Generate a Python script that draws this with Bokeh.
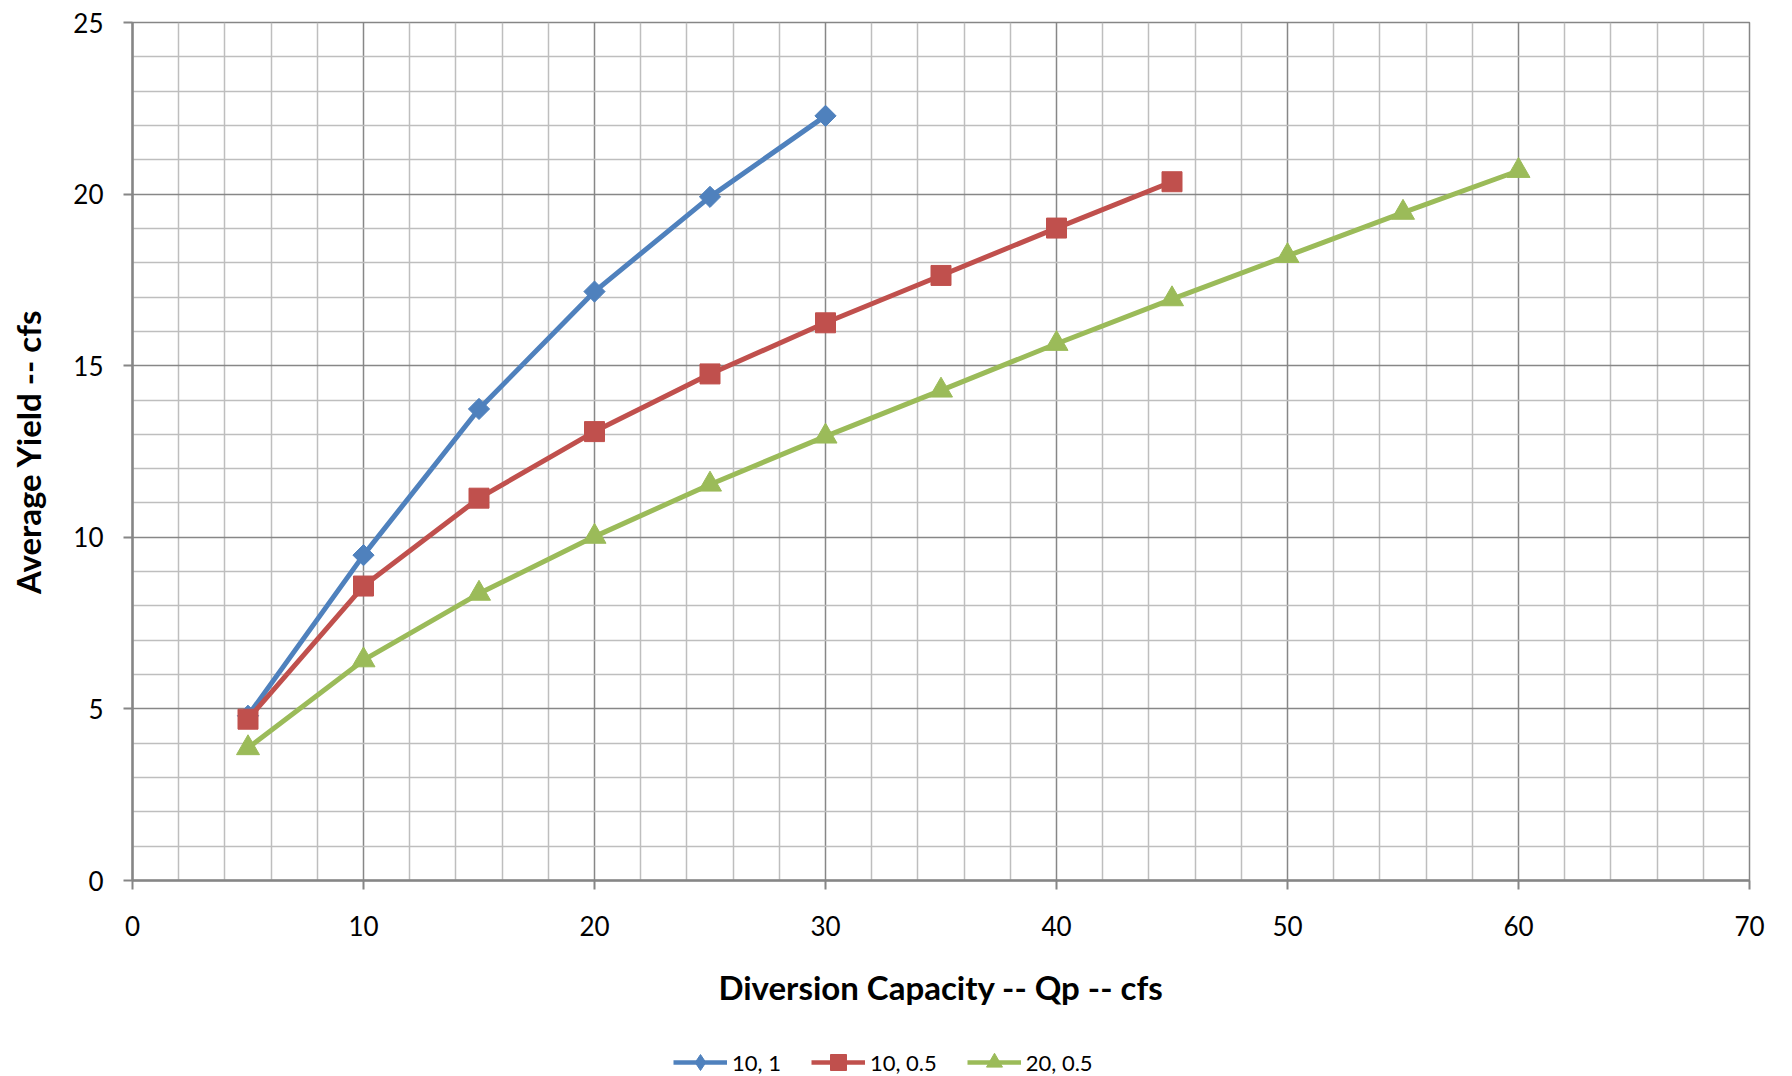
from bokeh.plotting import figure
from bokeh.layouts import column
from bokeh.models import Range1d, FixedTicker, Legend, LegendItem
from bokeh.embed import file_html
from bokeh.resources import INLINE

# ---- data ----
x_10_1 = [5, 10, 15, 20, 25, 30]
y_10_1 = [4.80, 9.48, 13.74, 17.16, 19.92, 22.28]

x_10_05 = [5, 10, 15, 20, 25, 30, 35, 40, 45]
y_10_05 = [4.70, 8.58, 11.14, 13.08, 14.76, 16.25, 17.63, 19.01, 20.36]

x_20_05 = [5, 10, 15, 20, 25, 30, 35, 40, 45, 50, 55, 60]
y_20_05 = [3.86, 6.42, 8.36, 10.02, 11.54, 12.94, 14.28, 15.64, 16.94, 18.20, 19.46, 20.68]

series_labels = ["10, 1", "10, 0.5", "20, 0.5"]
x_title = "Diversion Capacity -- Qp -- cfs"
y_title = "Average Yield -- cfs"

x_major = list(range(0, 71, 10))
x_minor = [v for v in range(0, 71, 2) if v % 10 != 0]
y_major = list(range(0, 26, 5))
y_minor = [v for v in range(0, 26, 1) if v % 5 != 0]

FONT = "Lato"
MAJOR_GRID = "#878787"
MINOR_GRID = "#bebebe"
AXIS_COLOR = "#868686"
colors = ["#4f81bd", "#c0504d", "#9bbb59"]
series = [(x_10_1, y_10_1, "square", 15, 45),
          (x_10_05, y_10_05, "square", 20, 0),
          (x_20_05, y_20_05, "triangle", 23, 0)]
legend_markers = ["diamond", "square", "triangle"]

H_MAIN = 1030
H_LEG = 1076 - H_MAIN

p = figure(width=1792, height=H_MAIN, output_backend="svg", toolbar_location=None,
           x_range=Range1d(0, 70), y_range=Range1d(0, 25),
           min_border_left=132, min_border_right=43, min_border_top=22,
           min_border_bottom=H_MAIN - 880)

p.background_fill_color = "white"
p.border_fill_color = "white"
p.outline_line_color = AXIS_COLOR
p.outline_line_width = 1.5

p.xaxis.ticker = FixedTicker(ticks=x_major, minor_ticks=x_minor)
p.yaxis.ticker = FixedTicker(ticks=y_major, minor_ticks=y_minor)

for g in (p.xgrid, p.ygrid):
    g.grid_line_color = MAJOR_GRID
    g.grid_line_width = 1.5
    g.minor_grid_line_color = MINOR_GRID
    g.minor_grid_line_width = 1.5

for ax in (p.xaxis, p.yaxis):
    ax.axis_line_color = AXIS_COLOR
    ax.axis_line_width = 2.5
    ax.major_tick_line_color = AXIS_COLOR
    ax.major_tick_line_width = 2
    ax.major_tick_out = 9
    ax.major_tick_in = 0
    ax.minor_tick_line_color = None
    ax.major_label_text_font = FONT
    ax.major_label_text_font_size = "26px"
    ax.major_label_text_color = "black"
    ax.axis_label_text_font = FONT
    ax.axis_label_text_font_size = "33px"
    ax.axis_label_text_font_style = "bold"
    ax.axis_label_text_color = "black"

p.xaxis.axis_label = x_title
p.yaxis.axis_label = y_title
p.xaxis.major_label_standoff = 26
p.yaxis.major_label_standoff = 20
p.xaxis.axis_label_standoff = 28
p.yaxis.axis_label_standoff = 22

for (xs, ys, marker, size, ang), c in zip(series, colors):
    p.line(xs, ys, line_color=c, line_width=5)
    p.scatter(xs, ys, marker=marker, size=size, angle=ang, angle_units="deg",
              fill_color=c, line_color=c)

# ---- legend strip under the chart ----
q = figure(width=1792, height=H_LEG, output_backend="svg", toolbar_location=None,
           x_range=Range1d(0, 70), y_range=Range1d(1000, 1001),
           x_axis_type=None, y_axis_type=None,
           min_border_left=132, min_border_right=43, min_border_top=0, min_border_bottom=0)
q.grid.visible = False
q.outline_line_color = None
q.background_fill_color = "white"
q.border_fill_color = "white"

items = []
for (xs, ys, marker, size, ang), lm, c, lab in zip(series, legend_markers, colors, series_labels):
    ln = q.line(xs, ys, line_color=c, line_width=4.5)
    sc = q.scatter(xs, ys, marker=lm, size=size, fill_color=c, line_color=c)
    items.append(LegendItem(label=lab, renderers=[ln, sc]))

legend = Legend(items=items, orientation="horizontal", location=(541, -6))
legend.border_line_color = None
legend.background_fill_alpha = 0
legend.label_text_font = FONT
legend.label_text_font_size = "22px"
legend.label_text_color = "black"
legend.glyph_width = 54
legend.glyph_height = 40
legend.spacing = 30
legend.padding = 0
legend.margin = 0
legend.label_standoff = 5
q.add_layout(legend)

layout = column(p, q, spacing=0)
open("out.html", "w").write(file_html(layout, INLINE))
